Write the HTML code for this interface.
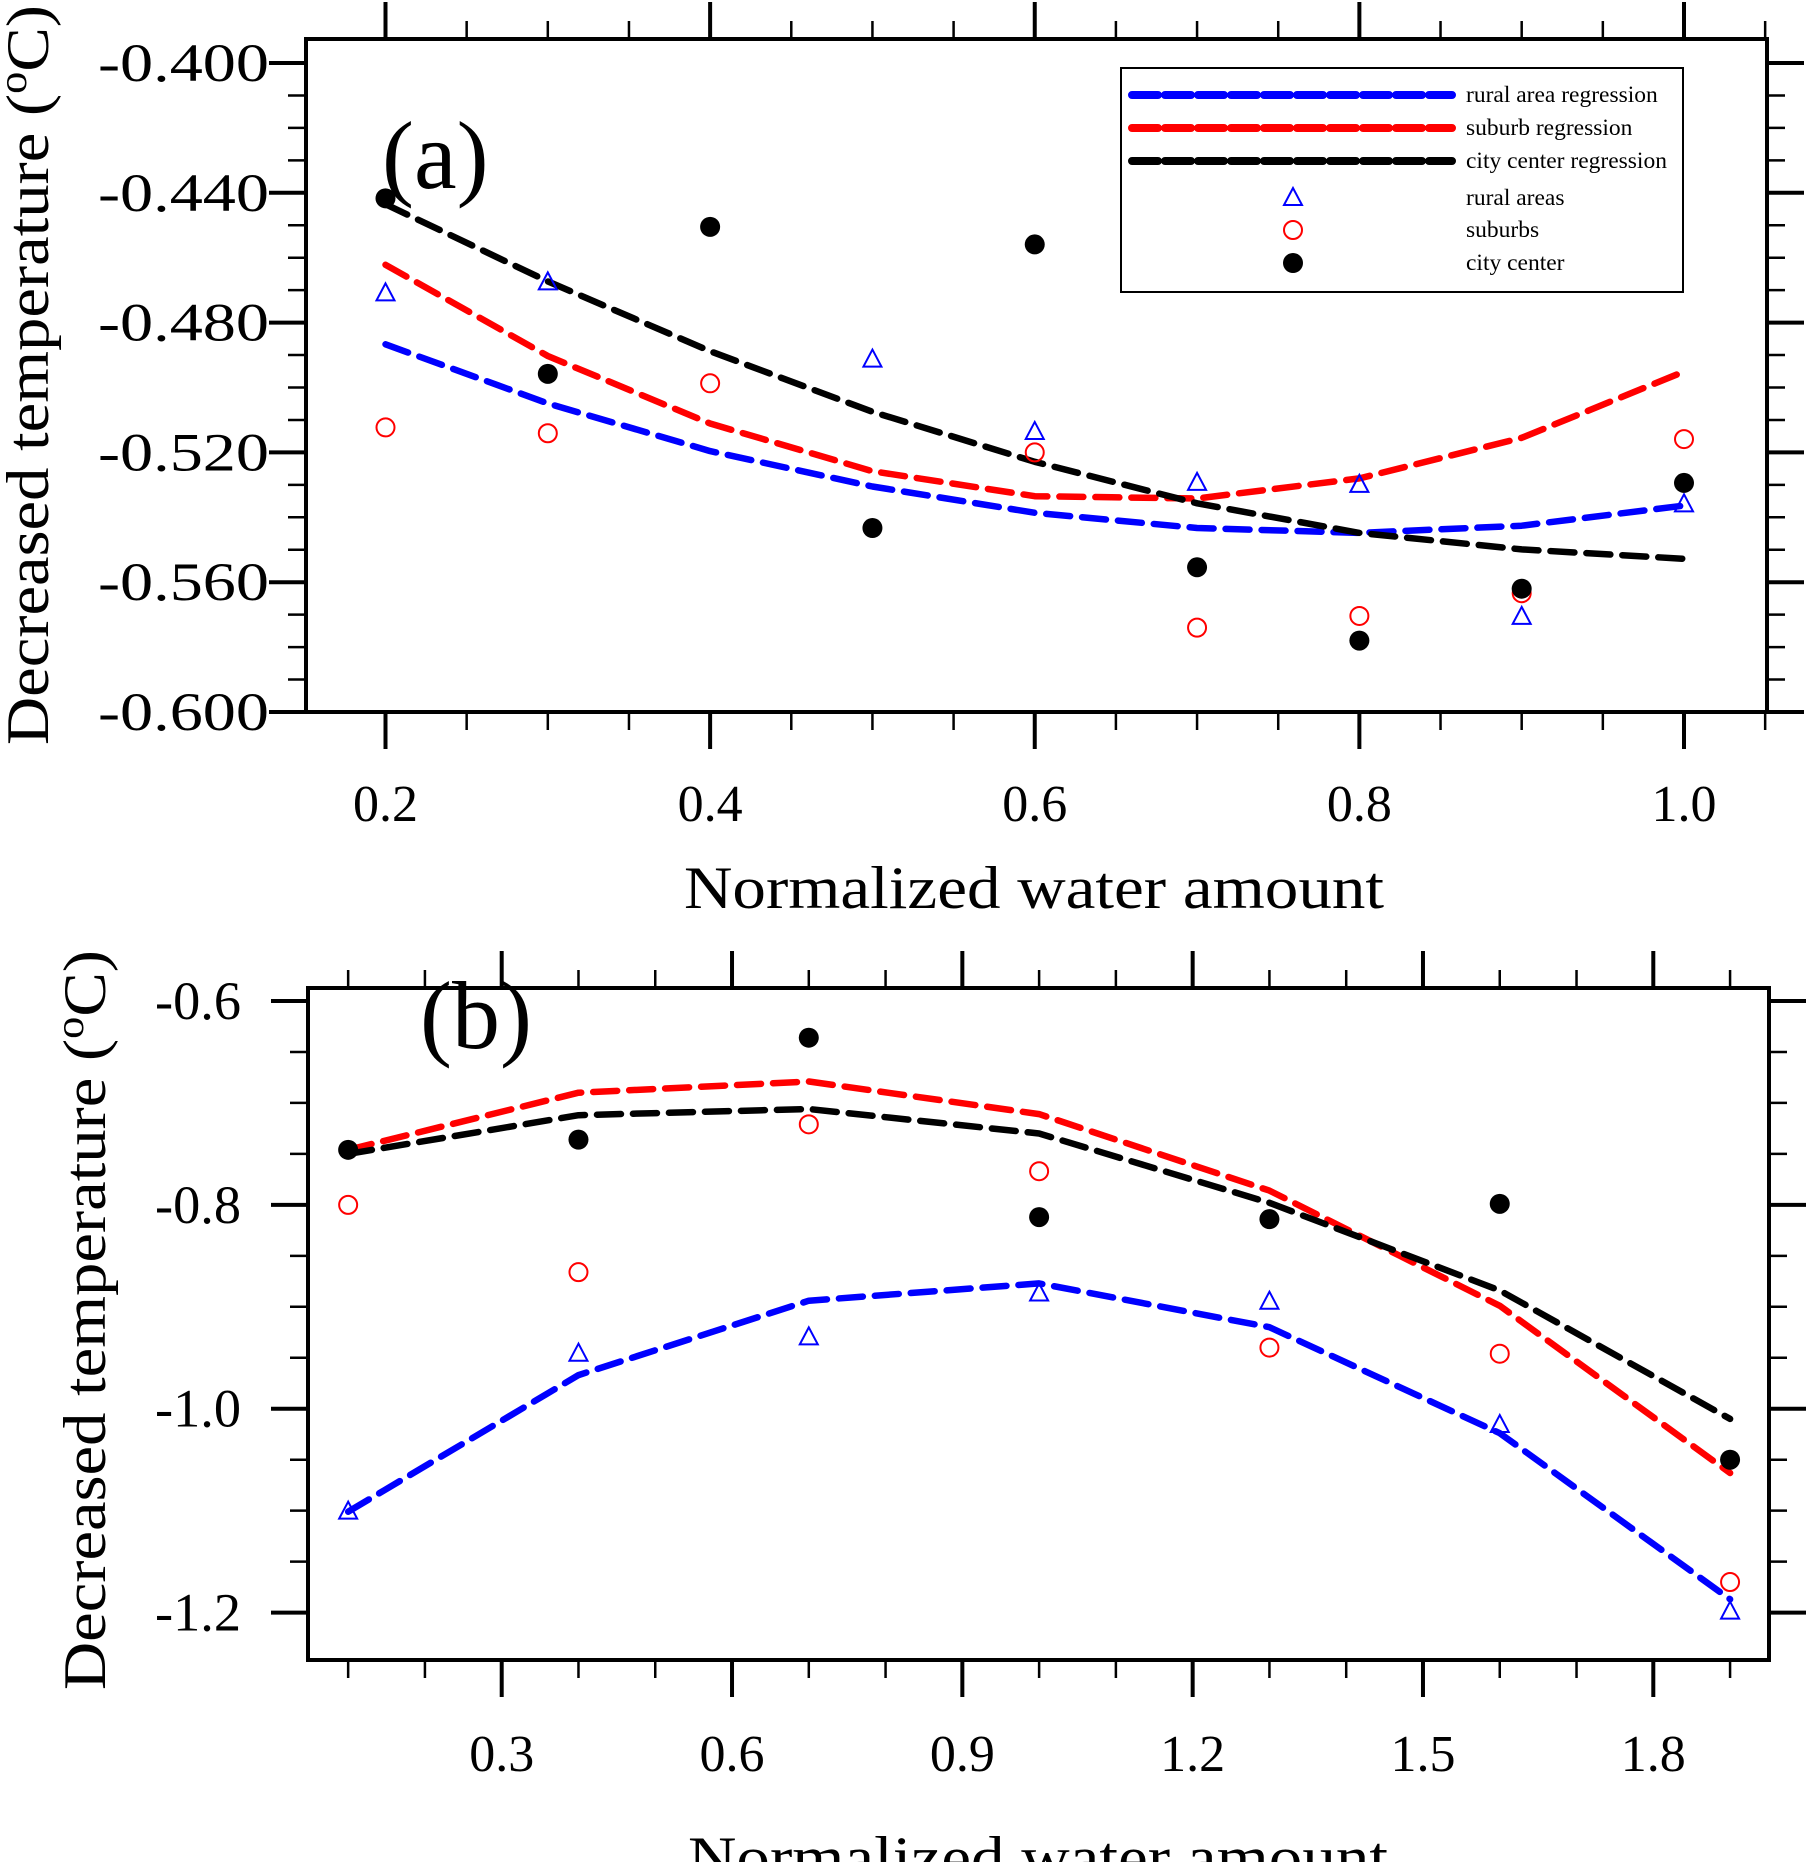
<!DOCTYPE html>
<html><head><meta charset="utf-8"><style>
html,body{margin:0;padding:0;background:#fff}
svg{display:block;font-family:"Liberation Serif",serif}
</style></head><body>
<svg id="chart" width="1810" height="1862" viewBox="0 0 1810 1862" xmlns="http://www.w3.org/2000/svg">
<rect x="0" y="0" width="1810" height="1862" fill="#fff"/>
<g id="pa"></g>
<g id="pb"></g>
</svg>
<script>
// ---- Panel (a) data ----
const aX = [0.2,0.3,0.4,0.5,0.6,0.7,0.8,0.9,1.0];
const aRural = [-0.471,-0.4676,null,-0.4914,-0.5137,-0.5294,-0.530,-0.5707,-0.536];
const aSuburb = [-0.5123,-0.5141,-0.4987,null,-0.520,-0.574,-0.5704,-0.5634,-0.5159];
const aCity = [-0.4417,-0.4958,-0.4505,-0.5433,-0.4559,-0.5554,-0.578,-0.562,-0.5294];
const aRuralReg = [-0.4867,-0.5049,-0.5196,-0.5305,-0.5386,-0.5433,-0.5448,-0.5426,-0.5364];
const aSuburbReg = [-0.4622,-0.4903,-0.5111,-0.5258,-0.5335,-0.5342,-0.528,-0.5155,-0.4951];
const aCityReg = [-0.4435,-0.4673,-0.4888,-0.5075,-0.5229,-0.5357,-0.5448,-0.5499,-0.5528];
const aYTicks = [-0.400,-0.440,-0.480,-0.520,-0.560,-0.600];
const aYTickLabels = ["-0.400","-0.440","-0.480","-0.520","-0.560","-0.600"];
const aXTicks = [0.2,0.4,0.6,0.8,1.0];
const aXTickLabels = ["0.2","0.4","0.6","0.8","1.0"];
// ---- Panel (b) data ----
const bX = [0.1,0.4,0.7,1.0,1.3,1.6,1.9];
const bRural = [-1.101,-0.946,-0.930,-0.887,-0.895,-1.016,-1.199];
const bSuburb = [-0.800,-0.866,-0.721,-0.767,-0.940,-0.946,-1.170];
const bCity = [-0.746,-0.736,-0.636,-0.812,-0.814,-0.799,-1.050];
const bRuralReg = [-1.101,-0.967,-0.894,-0.877,-0.920,-1.024,-1.187];
const bSuburbReg = [-0.746,-0.690,-0.679,-0.711,-0.786,-0.899,-1.063];
const bCityReg = [-0.750,-0.712,-0.706,-0.730,-0.798,-0.884,-1.010];
const bYTicks = [-0.6,-0.8,-1.0,-1.2];
const bYTickLabels = ["-0.6","-0.8","-1.0","-1.2"];
const bXTicks = [0.3,0.6,0.9,1.2,1.5,1.8];
const bXTickLabels = ["0.3","0.6","0.9","1.2","1.5","1.8"];

const NS="http://www.w3.org/2000/svg";
function mk(parent,tag,attrs,text){const e=document.createElementNS(NS,tag);for(const k in attrs)e.setAttribute(k,attrs[k]);if(text!==undefined)e.textContent=text;parent.appendChild(e);return e;}

function panel(g,cfg){
  const sx=v=>cfg.x0px+(v-cfg.x0v)*(cfg.x1px-cfg.x0px)/(cfg.x1v-cfg.x0v);
  const sy=v=>cfg.y0px+(v-cfg.y0v)*(cfg.y1px-cfg.y0px)/(cfg.y1v-cfg.y0v);
  const L=cfg.left,R=cfg.right,T=cfg.top,B=cfg.bottom;
  const eps=1e-6;
  for(let v=cfg.xMinorStart; v<=cfg.xMax+eps; v+=cfg.xMinor){
    const x=sx(v); if(x<L-1||x>R+1)continue;
    const major=cfg.xTicks.some(t=>Math.abs(t-v)<eps);
    const len=major?37:18;
    const t1=mk(g,'line',{x1:x,y1:B,x2:x,y2:B+len,stroke:'#000','stroke-width':major?4:2.5});
    
    
    const t2=mk(g,'line',{x1:x,y1:T,x2:x,y2:T-len,stroke:'#000','stroke-width':major?4:2.5});
    
    
  }
  for(let v=cfg.yMinorStart; v>=cfg.yMin-eps; v-=cfg.yMinor){
    const y=sy(v); if(y<T-1||y>B+1)continue;
    const major=cfg.yTicks.some(t=>Math.abs(t-v)<eps);
    const len=major?37:18;
    const t1=mk(g,'line',{x1:L,y1:y,x2:L-len,y2:y,stroke:'#000','stroke-width':major?4:2.5});
    
    
    const t2=mk(g,'line',{x1:R,y1:y,x2:R+len,y2:y,stroke:'#000','stroke-width':major?4:2.5});
    
    
  }
  const fr=mk(g,'rect',{x:L,y:T,width:R-L,height:B-T,fill:'none',stroke:'#000','stroke-width':4});
  
  
  cfg.yTicks.forEach((v,i)=>{
    const t=mk(g,'text',{x:cfg.yLabelX,y:sy(v)+18,'text-anchor':'end','font-size':54,textLength:cfg.yLabLen,lengthAdjust:'spacingAndGlyphs'},cfg.yTickLabels[i]);
    
    
  });
  cfg.xTicks.forEach((v,i)=>{
    const t=mk(g,'text',{x:sx(v),y:cfg.xLabelY,'text-anchor':'middle','font-size':52},cfg.xTickLabels[i]);
    
    
  });
  const regs=[[cfg.ruralReg,'#0000ff','rural-regression-line'],[cfg.suburbReg,'#ff0000','suburb-regression-line'],[cfg.cityReg,'#000','city-regression-line']];
  regs.forEach(([arr,col,name])=>{
    const pts=cfg.xs.map((x,i)=>sx(x).toFixed(1)+','+sy(arr[i]).toFixed(1)).join(' ');
    const p=mk(g,'polyline',{points:pts,fill:'none',stroke:col,'stroke-width':6.5,'stroke-dasharray':'24 12','stroke-linecap':'round','stroke-linejoin':'round'});
    
    
  });
  cfg.xs.forEach((x,i)=>{
    if(cfg.rural[i]!=null){
      const cx=sx(x),cy=sy(cfg.rural[i]);
      const p=mk(g,'polygon',{points:`${cx},${cy-10} ${cx-9},${cy+7} ${cx+9},${cy+7}`,fill:'none',stroke:'#0000ff','stroke-width':2});
      
      
    }
    if(cfg.suburb[i]!=null){
      const c=mk(g,'circle',{cx:sx(x),cy:sy(cfg.suburb[i]),r:9,fill:'none',stroke:'#ff0000','stroke-width':2});
      
      
    }
    if(cfg.city[i]!=null){
      const c=mk(g,'circle',{cx:sx(x),cy:sy(cfg.city[i]),r:10,fill:'#000'});
      
      
    }
  });
  const lab=mk(g,'text',{x:cfg.labX,y:cfg.labY,'font-size':96},cfg.label);
  
  
  const xt=mk(g,'text',{x:cfg.xtX,y:cfg.xtY,'text-anchor':'middle','font-size':60,textLength:700,lengthAdjust:'spacingAndGlyphs'},'Normalized water amount');
  
  
  const yt=mk(g,'text',{x:0,y:0,'text-anchor':'middle','font-size':60,textLength:cfg.ytLen,lengthAdjust:'spacingAndGlyphs',transform:`translate(${cfg.ytX},${cfg.ytY}) rotate(-90)`});
  
  
  yt.appendChild(document.createTextNode('Decreased temperature ('));
  mk(yt,'tspan',{'font-size':40,dy:-22},'o');
  mk(yt,'tspan',{dy:22},'C)');
}

panel(document.getElementById('pa'),{
  left:306,right:1767,top:39,bottom:712,
  x0v:0.2,x1v:1.0,x0px:385.5,x1px:1684,
  y0v:-0.4,y1v:-0.6,y0px:63,y1px:712,
  xMinorStart:0.15,xMinor:0.05,xMax:1.05,
  yMinorStart:-0.39,yMinor:0.01,yMin:-0.6,
  xTicks:aXTicks,xTickLabels:aXTickLabels,yTicks:aYTicks,yTickLabels:aYTickLabels,
  yLabelX:269,yLabLen:171,xLabelY:821,
  xs:aX,rural:aRural,suburb:aSuburb,city:aCity,
  ruralReg:aRuralReg,suburbReg:aSuburbReg,cityReg:aCityReg,
  label:'(a)',labX:382,labY:188,
  xtX:1034,xtY:908,ytX:48,ytY:375,ytLen:740
});
panel(document.getElementById('pb'),{
  left:308,right:1769,top:988,bottom:1660,
  x0v:0.3,x1v:1.8,x0px:501.7,x1px:1653.3,
  y0v:-0.6,y1v:-1.2,y0px:1001,y1px:1612.6,
  xMinorStart:0.1,xMinor:0.1,xMax:1.95,
  yMinorStart:-0.6,yMinor:0.05,yMin:-1.25,
  xTicks:bXTicks,xTickLabels:bXTickLabels,yTicks:bYTicks,yTickLabels:bYTickLabels,
  yLabelX:241,yLabLen:86,xLabelY:1771,
  xs:bX,rural:bRural,suburb:bSuburb,city:bCity,
  ruralReg:bRuralReg,suburbReg:bSuburbReg,cityReg:bCityReg,
  label:'(b)',labX:420,labY:1048,
  xtX:1038,xtY:1878,ytX:105,ytY:1320,ytLen:740
});

const lg=mk(document.getElementById('pa'),'g',{});


const lb=mk(lg,'rect',{x:1121,y:68,width:562,height:224,fill:'#fff',stroke:'#000','stroke-width':2});


const legLines=[['#0000ff','rural area regression',95],['#ff0000','suburb regression',128],['#000','city center regression',161]];
legLines.forEach(([c,t,y])=>{
  const e=mk(lg,'g',{});
  
  
  mk(e,'line',{x1:1132,y1:y,x2:1452,y2:y,stroke:c,'stroke-width':8,'stroke-dasharray':'26 7','stroke-linecap':'round'});
  mk(e,'text',{x:1466,y:y+7,'font-size':23.5},t);
});
const legMarks=[['tri','rural areas',198],['circ','suburbs',230],['dot','city center',263]];
legMarks.forEach(([k,t,y])=>{
  const e=mk(lg,'g',{});
  
  
  const cx=1293;
  if(k==='tri')mk(e,'polygon',{points:`${cx},${y-10} ${cx-9},${y+7} ${cx+9},${y+7}`,fill:'none',stroke:'#0000ff','stroke-width':2});
  if(k==='circ')mk(e,'circle',{cx:cx,cy:y,r:9,fill:'none',stroke:'#ff0000','stroke-width':2});
  if(k==='dot')mk(e,'circle',{cx:cx,cy:y,r:10,fill:'#000'});
  mk(e,'text',{x:1466,y:y+7,'font-size':23.5},t);
});
</script>
</body></html>
